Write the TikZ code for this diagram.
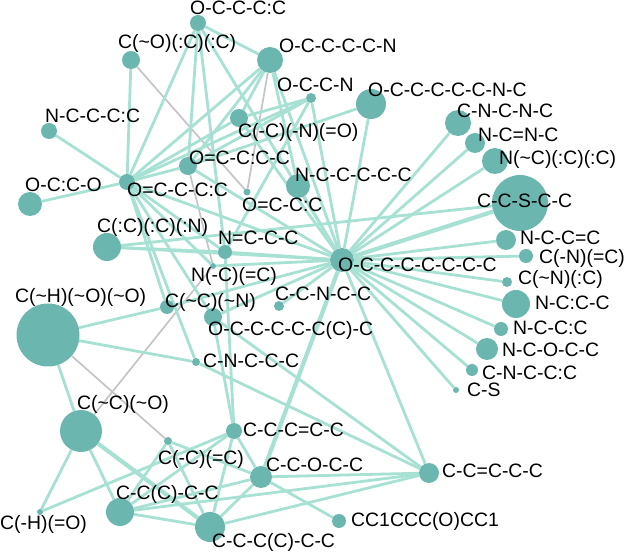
\documentclass[tikz,border=0pt]{standalone}
\usepackage{fontspec}
\setmainfont{Liberation Sans}
\usetikzlibrary{backgrounds}
\definecolor{nodecol}{RGB}{108,182,176}
\definecolor{edgecol}{RGB}{166,225,211}
\definecolor{greycol}{RGB}{196,196,200}
\newcommand{\tl}{\textasciitilde}
\begin{document}
\begin{tikzpicture}[x=1pt,y=-1pt,
  dot/.style={circle,fill=nodecol,draw=none,inner sep=0pt},
  lab/.style={anchor=base west,inner sep=0pt,font=\fontsize{19.4}{22}\selectfont},
  edge/.style={draw=edgecol,line width=2.8pt},
  thk/.style={draw=edgecol,line width=4.2pt},
  gedge/.style={draw=greycol,line width=1.7pt}]
\useasboundingbox (0,0) rectangle (625,553);
% nodes
\node[dot,minimum size=16pt] (n1) at (198,23) {};
\node[dot,minimum size=18pt] (n2) at (131,60) {};
\node[dot,minimum size=26pt] (n3) at (270,60) {};
\node[dot,minimum size=10pt] (n4) at (311,98) {};
\node[dot,minimum size=30pt] (n5) at (371,104) {};
\node[dot,minimum size=16pt] (n6) at (49,131) {};
\node[dot,minimum size=18pt] (n7) at (239,118) {};
\node[dot,minimum size=26pt] (n8) at (458,123) {};
\node[dot,minimum size=20pt] (n9) at (475,143) {};
\node[dot,minimum size=26pt] (n10) at (495,161) {};
\node[dot,minimum size=18pt] (n11) at (188,166) {};
\node[dot,minimum size=16pt] (n12) at (127,182) {};
\node[dot,minimum size=24pt] (n13) at (298,186) {};
\node[dot,minimum size=7pt] (n14) at (247,192) {};
\node[dot,minimum size=24pt] (n15) at (30,204) {};
\node[dot,minimum size=56pt] (n16) at (520,203) {};
\node[dot,minimum size=28pt] (n17) at (107,247) {};
\node[dot,minimum size=14pt] (n18) at (225,252) {};
\node[dot,minimum size=24pt] (n19) at (342,260) {};
\node[dot,minimum size=20pt] (n20) at (506,240) {};
\node[dot,minimum size=14pt] (n21) at (526,256) {};
\node[dot,minimum size=10pt] (n22) at (507,282) {};
\node[dot,minimum size=6pt] (n23) at (213,266) {};
\node[dot,minimum size=63pt] (n24) at (48,335) {};
\node[dot,minimum size=14pt] (n25) at (167,307) {};
\node[dot,minimum size=10pt] (n26) at (279,306) {};
\node[dot,minimum size=18pt] (n27) at (213,317) {};
\node[dot,minimum size=28pt] (n28) at (516,304) {};
\node[dot,minimum size=14pt] (n29) at (501,329) {};
\node[dot,minimum size=22pt] (n30) at (487,349) {};
\node[dot,minimum size=12pt] (n31) at (472,370) {};
\node[dot,minimum size=8pt] (n32) at (196,362) {};
\node[dot,minimum size=6pt] (n33) at (456,390) {};
\node[dot,minimum size=42pt] (n34) at (81,431) {};
\node[dot,minimum size=16pt] (n35) at (234,431) {};
\node[dot,minimum size=8pt] (n36) at (168,441) {};
\node[dot,minimum size=22pt] (n37) at (261,477) {};
\node[dot,minimum size=20pt] (n38) at (429,473) {};
\node[dot,minimum size=28pt] (n39) at (120,512) {};
\node[dot,minimum size=6pt] (n40) at (40,512) {};
\node[dot,minimum size=14pt] (n41) at (339,521) {};
\node[dot,minimum size=30pt] (n42) at (210,527) {};
% edges
\begin{scope}[on background layer]
\foreach \a/\b in {n2/n14,n3/n14,n11/n23,n34/n23,n24/n36}
  \draw[gedge] (\a) -- (\b);
\foreach \a/\b in {n19/n5,n19/n8,n19/n9,n19/n10,n19/n20,n19/n21,n19/n22,n19/n28,n19/n29,n19/n30,n19/n31,n19/n33,
  n19/n3,n19/n4,n19/n7,n19/n13,n19/n1,n19/n11,n19/n12,n19/n17,n19/n18,n19/n23,n19/n25,n19/n26,n19/n27,n19/n38,
  n12/n6,n12/n15,n12/n2,n12/n1,n12/n3,n12/n4,n12/n7,n12/n11,n12/n18,n12/n23,n12/n25,n12/n27,n12/n32,
  n1/n3,n1/n11,n1/n18,n3/n11,n3/n13,n3/n7,n4/n7,n4/n11,n4/n18,n11/n5,
  n17/n16,n17/n18,n18/n35,n24/n25,n24/n32,n24/n34,n27/n38,n27/n35,n32/n38,
  n34/n39,n34/n40,n35/n40,n35/n39,n35/n42,n35/n37,n36/n39,n36/n42,n36/n37,
  n37/n38,n37/n41,n37/n42,n37/n39,n38/n39,n38/n42,n39/n42}
  \draw[edge] (\a) -- (\b);
\foreach \a/\b in {n19/n16,n19/n37,n34/n42}
  \draw[thk] (\a) -- (\b);
\end{scope}
% labels
\node[lab] (l1) at (190,15) {O-C-C-C:C};
\node[lab] (l2) at (118,49) {C(\tl O)(:C)(:C)};
\node[lab] (l3) at (279,53) {O-C-C-C-C-N};
\node[lab] (l4) at (277,92) {O-C-C-N};
\node[lab] (l5) at (368,97) {O-C-C-C-C-C-N-C};
\node[lab] (l6) at (45,123) {N-C-C-C:C};
\node[lab] (l7) at (238,138) {C(-C)(-N)(=O)};
\node[lab] (l8) at (457,118) {C-N-C-N-C};
\node[lab] (l9) at (478,142) {N-C=N-C};
\node[lab] (l10) at (499,165) {N(\tl C)(:C)(:C)};
\node[lab] (l11) at (189,165) {O=C-C:C-C};
\node[lab] (l12) at (127,197) {O=C-C-C:C};
\node[lab] (l13) at (295,182) {N-C-C-C-C-C};
\node[lab] (l14) at (242,212) {O=C-C:C};
\node[lab] (l15) at (25,192) {O-C:C-O};
\node[lab] (l16) at (477,208) {C-C-S-C-C};
\node[lab] (l17) at (97,233) {C(:C)(:C)(:N)};
\node[lab] (l18) at (218,245) {N=C-C-C};
\node[lab] (l19) at (338,272) {O-C-C-C-C-C-C-C};
\node[lab] (l20) at (520,245) {N-C-C=C};
\node[lab] (l21) at (539,264) {C(-N)(=C)};
\node[lab] (l22) at (518,285) {C(\tl N)(:C)};
\node[lab] (l23) at (191,282) {N(-C)(=C)};
\node[lab] (l24) at (15,303) {C(\tl H)(\tl O)(\tl O)};
\node[lab] (l25) at (165,308) {C(\tl C)(\tl N)};
\node[lab] (l26) at (275,301) {C-C-N-C-C};
\node[lab] (l27) at (208,336) {O-C-C-C-C-C(C)-C};
\node[lab] (l28) at (535,310) {N-C:C-C};
\node[lab] (l29) at (513,335) {N-C-C:C};
\node[lab] (l30) at (502,357) {N-C-O-C-C};
\node[lab] (l31) at (482,380) {C-N-C-C:C};
\node[lab] (l32) at (203,368) {C-N-C-C-C};
\node[lab] (l33) at (467,397) {C-S};
\node[lab] (l34) at (77,410) {C(\tl C)(\tl O)};
\node[lab] (l35) at (243,437) {C-C-C=C-C};
\node[lab] (l36) at (158,465) {C(-C)(=C)};
\node[lab] (l37) at (266,472) {C-C-O-C-C};
\node[lab] (l38) at (442,478) {C-C=C-C-C};
\node[lab] (l39) at (116,500) {C-C(C)-C-C};
\node[lab] (l40) at (0,530) {C(-H)(=O)};
\node[lab] (l41) at (351,527) {CC1CCC(O)CC1};
\node[lab] (l42) at (212,548) {C-C-C(C)-C-C};
\end{tikzpicture}
\end{document}
